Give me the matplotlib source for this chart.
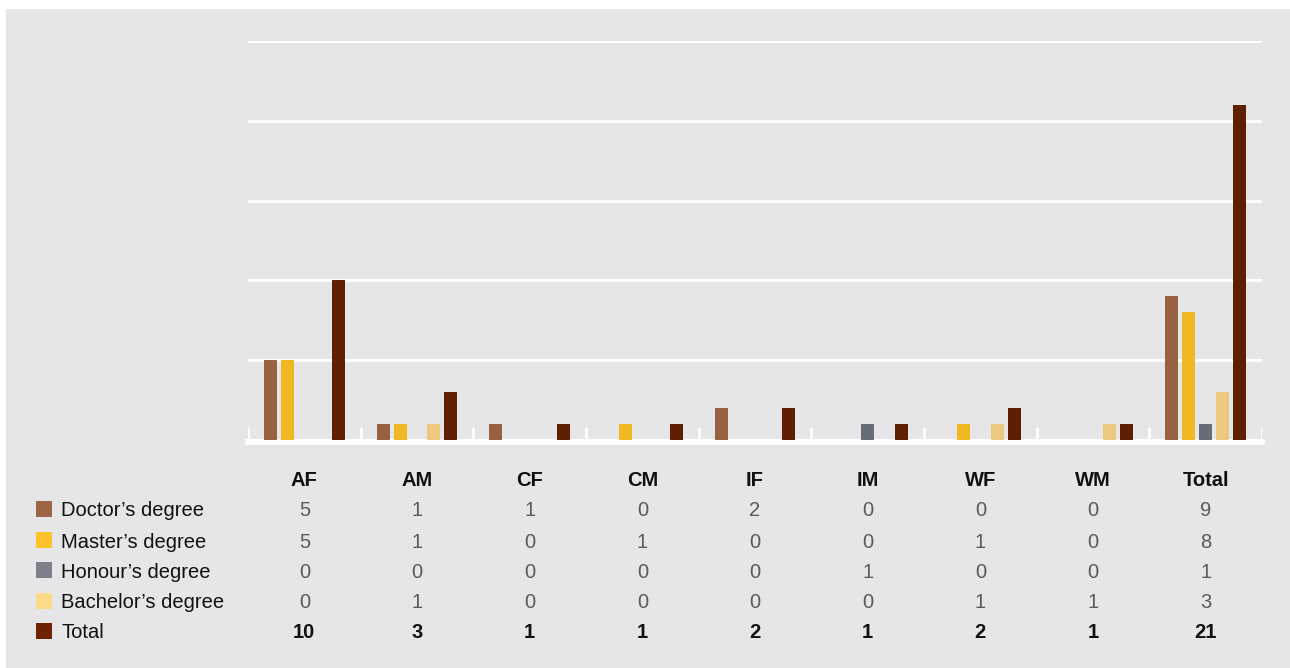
import numpy as np
import matplotlib.pyplot as plt
from matplotlib.patches import Rectangle
from matplotlib.transforms import blended_transform_factory

plt.rcParams["font.family"] = ["Liberation Sans", "DejaVu Sans"]

categories = ["AF", "AM", "CF", "CM", "IF", "IM", "WF", "WM", "Total"]
series_names = ["Doctor\u2019s degree", "Master\u2019s degree", "Honour\u2019s degree",
                "Bachelor\u2019s degree", "Total"]
doctor = [5, 1, 1, 0, 2, 0, 0, 0, 9]
master = [5, 1, 0, 1, 0, 0, 1, 0, 8]
honour = [0, 0, 0, 0, 0, 1, 0, 0, 1]
bachelor = [0, 1, 0, 0, 0, 0, 1, 1, 3]
total = [10, 3, 1, 1, 2, 1, 2, 1, 21]

series = [doctor, master, honour, bachelor, total]
bar_colors = ["#98613f", "#f0b823", "#686d76", "#ecc97f", "#5e2000"]
swatch_colors = ["#9c6644", "#fdc12a", "#7d8089", "#fdd98a", "#6b2300"]
bg = "#e6e6e8"

W, H = 1290, 668
fig = plt.figure(figsize=(W / 100, H / 100), dpi=100)
fig.patch.set_facecolor("white")
fig.patches.append(Rectangle((6 / W, 0), 1 - 6 / W, 1 - 9 / H, transform=fig.transFigure,
                             facecolor=bg, edgecolor="none", zorder=-10))

ax = fig.add_axes([248 / W, (H - 440) / H, (1262 - 248) / W, (440 - 41) / H])
ax.patch.set_alpha(0)

x = np.arange(len(categories))
step, width = 0.15, 0.115
for k, (vals, col) in enumerate(zip(series, bar_colors)):
    ax.bar(x + (k - 2) * step, vals, width, color=col, edgecolor="none", zorder=3)

ax.set_xlim(-0.5, len(categories) - 0.5)
ax.set_ylim(0, 25)
ax.set_yticks([0, 5, 10, 15, 20, 25])
ax.yaxis.grid(True, color="white", lw=2)
ax.set_axisbelow(True)
ax.tick_params(left=False, bottom=False, labelleft=False, labelbottom=False)
for s in ax.spines.values():
    s.set_visible(False)

# baseline and category separators
ax.axhline(-0.15, color="white", lw=4, clip_on=False, zorder=2)
ax.vlines(np.arange(len(categories) + 1) - 0.5, 0, 0.8, color="white", lw=2, zorder=2)

# data table under the chart
btr = blended_transform_factory(ax.transData, fig.transFigure)

def fy(py):
    return (H - py) / H

fs = 14.5
for i, c in enumerate(categories):
    ax.text(i, fy(480), c, transform=btr, ha="center", va="center",
            fontsize=fs, fontweight="bold", color="#111111")

row_y = [511, 542, 572, 603, 633]
for k, (name, vals) in enumerate(zip(series_names, series)):
    y = fy(row_y[k])
    fig.patches.append(Rectangle((36 / W, y - 6 / H), 16 / W, 16 / H, transform=fig.transFigure,
                                 facecolor=swatch_colors[k], edgecolor="none", zorder=-5))
    fig.text(61 / W, y, name, ha="left", va="center", fontsize=fs, color="#111111")
    last = k == len(series) - 1
    for i, v in enumerate(vals):
        ax.text(i, y, str(v), transform=btr, ha="center", va="center", fontsize=fs,
                fontweight="bold" if last else "normal",
                color="#111111" if last else "#5a5a5a")

fig.savefig("out.png", dpi=100)
